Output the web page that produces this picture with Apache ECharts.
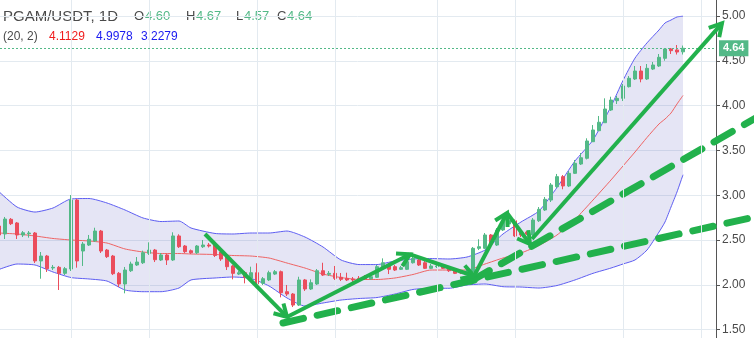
<!DOCTYPE html>
<html><head><meta charset="utf-8">
<script src="https://cdn.jsdelivr.net/npm/echarts@6/dist/echarts.min.js"></script>
<style>html,body{margin:0;padding:0;background:#fff}#c{width:754px;height:338px}</style>
</head><body><div id="c"></div>
<script>
// ---- candle data (daily PGAM/USDT) ----
const opens = [
2.656,2.567,2.731,2.690,2.556,2.570,2.578,2.266,2.321,2.188,
2.195,2.128,2.176,2.946,2.377,2.444,2.489,2.600,2.388,2.321,
2.128,2.009,2.157,2.221,2.246,2.351,2.388,2.277,2.333,2.277,
2.545,2.433,2.380,2.358,2.425,2.444,2.444,2.366,2.321,2.210,
2.120,2.135,2.072,2.135,2.017,2.054,2.120,2.146,1.923,1.897,
1.774,2.054,1.953,2.009,2.157,2.117,2.128,2.084,2.072,2.064,
2.072,2.087,2.068,2.084,2.184,2.221,2.202,2.173,2.173,2.246,
2.277,2.246,2.184,2.202,2.210,2.195,2.165,2.154,2.132,2.143,
2.407,2.407,2.556,2.444,2.612,2.679,2.715,2.593,2.589,2.556,
2.715,2.835,2.946,3.095,3.207,3.103,3.244,3.348,3.412,3.597,
3.720,3.809,3.951,4.055,4.081,4.211,4.297,4.386,4.297,4.408,
4.442,4.528,4.632,4.621,4.60];
const closes = [
2.556,2.734,2.682,2.556,2.581,2.578,2.266,2.321,2.180,2.195,
2.128,2.180,2.946,2.266,2.455,2.508,2.600,2.377,2.314,2.124,
2.009,2.165,2.232,2.254,2.358,2.388,2.280,2.333,2.277,2.545,
2.425,2.370,2.358,2.433,2.444,2.433,2.327,2.288,2.202,2.128,
2.135,2.084,2.135,2.009,2.068,2.135,2.146,1.912,1.897,1.774,
2.054,1.953,2.023,2.157,2.109,2.128,2.072,2.061,2.054,2.054,
2.054,2.064,2.090,2.202,2.246,2.173,2.165,2.191,2.258,2.295,
2.221,2.184,2.210,2.210,2.184,2.157,2.128,2.132,2.154,2.407,
2.425,2.556,2.455,2.612,2.704,2.715,2.545,2.556,2.567,2.723,
2.842,2.954,3.114,3.207,3.103,3.244,3.356,3.418,3.605,3.728,
3.814,3.962,4.062,4.081,4.219,4.305,4.386,4.297,4.416,4.453,
4.539,4.632,4.613,4.598,4.64];
const highs = [
2.690,2.757,2.745,2.701,2.600,2.600,2.589,2.366,2.333,2.221,
2.210,2.199,3.002,2.958,2.478,2.556,2.637,2.612,2.400,2.333,
2.143,2.199,2.258,2.310,2.381,2.474,2.400,2.355,2.344,2.586,
2.564,2.444,2.394,2.444,2.500,2.466,2.455,2.388,2.333,2.221,
2.154,2.154,2.202,2.240,2.087,2.157,2.165,2.159,1.998,1.908,
2.090,2.065,2.061,2.176,2.246,2.154,2.210,2.132,2.135,2.087,
2.098,2.109,2.109,2.221,2.295,2.243,2.221,2.210,2.333,2.351,
2.299,2.266,2.232,2.232,2.221,2.210,2.176,2.165,2.187,2.422,
2.508,2.578,2.567,2.634,2.723,2.768,2.729,2.612,2.600,2.745,
2.868,2.980,3.136,3.237,3.225,3.270,3.393,3.471,3.635,3.783,
3.884,4.081,4.099,4.107,4.241,4.330,4.442,4.442,4.464,4.487,
4.576,4.643,4.643,4.676,4.67];
const lows = [
2.522,2.511,2.667,2.511,2.533,2.526,2.243,2.068,2.143,2.165,
1.942,2.109,2.154,2.191,2.210,2.433,2.478,2.355,2.299,2.109,
1.975,1.905,2.143,2.210,2.232,2.333,2.254,2.266,2.221,2.266,
2.411,2.355,2.344,2.344,2.411,2.416,2.310,2.266,2.165,2.061,
2.109,2.016,2.054,1.998,1.998,2.042,2.109,1.860,1.875,1.752,
1.763,1.931,1.942,1.998,2.098,2.098,2.054,2.042,2.042,2.031,
2.042,2.054,2.054,2.076,2.176,2.120,2.154,2.165,2.165,2.237,
2.210,2.176,2.176,2.187,2.176,2.143,2.120,2.120,2.120,2.087,
2.388,2.400,2.433,2.433,2.600,2.656,2.533,2.533,2.556,2.545,
2.701,2.824,2.924,3.080,3.066,3.091,3.237,3.337,3.399,3.594,
3.716,3.806,3.940,4.018,4.051,4.202,4.286,4.260,4.286,4.397,
4.431,4.501,4.576,4.570,4.57];

// category slots (candles + empty right margin)
const categories = Array.from({length: 120}, (_, i) => 'D' + (i + 1));

// ---- Bollinger Bands (20, 2) at candle indices ----
const bbIdx   = [0,3,6,9,12,15,18,21,24,27,30,32,36,39,42,45,48,51,54,57,60,63,66,69,72,75,78,81,84,87,90,93,96,99,102,104,106,108,110,111,112,113,114];
const bbUpper = [3.039,2.868,2.812,2.857,2.958,2.963,2.913,2.835,2.746,2.706,2.712,2.634,2.573,2.567,2.578,2.578,2.600,2.533,2.422,2.277,2.226,2.226,2.266,2.288,2.293,2.288,2.310,2.388,2.567,2.701,2.824,3.086,3.382,3.616,3.990,4.280,4.530,4.700,4.844,4.922,4.955,4.989,4.9978];
const bbMid   = [2.578,2.567,2.545,2.517,2.500,2.489,2.466,2.400,2.366,2.349,2.349,2.344,2.338,2.327,2.321,2.299,2.243,2.187,2.120,2.081,2.059,2.059,2.076,2.115,2.165,2.165,2.165,2.232,2.299,2.355,2.439,2.556,2.730,2.946,3.170,3.326,3.482,3.644,3.795,3.850,3.917,4.018,4.1129];
const bbLower = [2.171,2.232,2.221,2.143,2.081,2.065,2.042,1.942,1.923,1.923,1.964,2.054,2.076,2.087,2.070,1.987,1.853,1.763,1.797,1.830,1.847,1.858,1.897,1.948,1.961,1.961,1.998,2.009,1.979,1.975,1.964,1.992,2.054,2.128,2.187,2.232,2.277,2.388,2.589,2.701,2.868,3.036,3.2279];
const bbLabel = '(20, 2)';

// ---- vertical date gridlines (candle index) ----
const gridIdx = [12, 25, 43, 56, 73, 86, 104, 117];

// ---- drawn annotations (candle index, price) ----
const arrowStart = [[34.33,2.567],[48.0,1.641],[68.5,2.340],[79.17,2.098],[84.67,2.801],[88.83,2.511]];
const arrowEnd   = [[48.0,1.641],[68.5,2.340],[79.17,2.098],[84.67,2.801],[88.5,2.455],[120.5,4.918]];
const dashStart  = [[47.33,1.574],[78.67,2.042]];
const dashEnd    = [[126.83,2.771],[126.83,3.888]];

// ---- y axis ticks ----
const yMin = 1.0, yMax = 5.5, yStep = 0.5;

const UP = '#53b987', DOWN = '#eb4d5c', DRAW = '#22b14c';
const FONT = '"Liberation Sans", Arial, sans-serif';

const chart = echarts.init(document.getElementById('c'), null, {renderer: 'canvas'});
const n = opens.length;
const last = n - 1;

function arrowItem(params, api) {
  const p1 = api.coord([api.value(0), api.value(1)]);
  const p2 = api.coord([api.value(2), api.value(3)]);
  const dx = p2[0] - p1[0], dy = p2[1] - p1[1];
  const len = Math.hypot(dx, dy);
  const ux = dx / len, uy = dy / len;
  const L = 14, a = Math.PI / 6, c = Math.cos(a), s = Math.sin(a);
  const w1 = [p2[0] - L * (ux * c - uy * s), p2[1] - L * (uy * c + ux * s)];
  const w2 = [p2[0] - L * (ux * c + uy * s), p2[1] - L * (uy * c - ux * s)];
  return {type: 'group', children: [
    {type: 'line', shape: {x1: p1[0], y1: p1[1], x2: p2[0], y2: p2[1]}, style: {stroke: DRAW, lineWidth: 4, lineCap: 'butt'}},
    {type: 'polyline', shape: {points: [w1, p2, w2]}, style: {stroke: DRAW, lineWidth: 4, fill: null, lineJoin: 'miter'}}
  ]};
}
function dashItem(params, api) {
  const p1 = api.coord([api.value(0), api.value(1)]);
  const p2 = api.coord([api.value(2), api.value(3)]);
  return {type: 'line', shape: {x1: p1[0], y1: p1[1], x2: p2[0], y2: p2[1]},
    style: {stroke: DRAW, lineWidth: 7, lineDash: [21, 14], lineCap: 'round'}};
}
function bandFill(params, api) {
  if (params.dataIndex !== 0) return null;
  const pts = [];
  for (let k = 0; k < bbIdx.length; k++) pts.push(api.coord([bbIdx[k], bbUpper[k]]));
  for (let k = bbIdx.length - 1; k >= 0; k--) pts.push(api.coord([bbIdx[k], bbLower[k]]));
  return {type: 'polygon', shape: {points: pts}, style: {fill: 'rgba(96,96,190,0.16)'}};
}

const pair = (xs, ys) => xs.map((x, k) => [x, ys[k]]);

const option = {
  animation: false,
  backgroundColor: '#ffffff',
  grid: {left: -4, right: 38, top: -28.8, bottom: -36.4, containLabel: false, outerBoundsMode: 'none'},
  xAxis: [
    {type: 'category', data: categories, boundaryGap: true, show: false},
    {type: 'value', min: -0.5, max: 119.5, show: false}
  ],
  yAxis: [{
    type: 'value', position: 'right', min: yMin, max: yMax, interval: yStep,
    axisLine: {show: true, onZero: false, lineStyle: {color: '#555', width: 1}},
    axisTick: {show: true, length: 4, lineStyle: {color: '#555'}},
    axisLabel: {margin: 6, color: '#4a4a4a', fontSize: 12, fontFamily: FONT, formatter: v => v.toFixed(2)},
    splitLine: {show: true, lineStyle: {color: '#e3eaf0', width: 1}}
  }],
  series: [
    {type: 'line', xAxisIndex: 1, yAxisIndex: 0, data: [], z: 0, silent: true,
     markLine: {silent: true, symbol: 'none', animation: false, label: {show: false},
       lineStyle: {color: '#e3eaf0', width: 1, type: 'solid'},
       data: gridIdx.map(v => ({xAxis: v}))}},
    {type: 'custom', xAxisIndex: 1, yAxisIndex: 0, z: 1, silent: true, renderItem: bandFill,
     data: [[bbIdx[0], bbMid[0]]], encode: {x: 0, y: 1}},
    {type: 'line', xAxisIndex: 1, yAxisIndex: 0, z: 2, silent: true, showSymbol: false, smooth: 0.2,
     lineStyle: {color: '#5e5ef2', width: 1}, data: pair(bbIdx, bbUpper)},
    {type: 'line', xAxisIndex: 1, yAxisIndex: 0, z: 2, silent: true, showSymbol: false, smooth: 0.2,
     lineStyle: {color: '#5e5ef2', width: 1}, data: pair(bbIdx, bbLower)},
    {type: 'line', xAxisIndex: 1, yAxisIndex: 0, z: 2, silent: true, showSymbol: false, smooth: 0.2,
     lineStyle: {color: '#ef6464', width: 1}, data: pair(bbIdx, bbMid)},
    {type: 'candlestick', xAxisIndex: 0, yAxisIndex: 0, z: 3, barWidth: 4,
     data: opens.map((o, k) => [o, closes[k], lows[k], highs[k]]),
     itemStyle: {color: UP, color0: DOWN, borderColor: UP, borderColor0: DOWN, borderWidth: 1},
     markLine: {silent: true, symbol: 'none', animation: false,
       lineStyle: {color: UP, width: 1, type: [2, 2]},
       label: {show: true, position: 'end', distance: 3, formatter: p => p.value.toFixed(2),
         backgroundColor: UP, color: '#fff', fontWeight: 'bold', fontSize: 11, fontFamily: FONT,
         padding: [3, 4, 2, 4]},
       data: [{yAxis: closes[last]}]}},
    {type: 'custom', xAxisIndex: 1, yAxisIndex: 0, z: 4, silent: true, clip: false, renderItem: dashItem,
     data: dashStart.map((s, k) => [s[0], s[1], dashEnd[k][0], dashEnd[k][1]]), encode: {x: [0, 2], y: [1, 3]}},
    {type: 'custom', xAxisIndex: 1, yAxisIndex: 0, z: 5, silent: true, clip: false, renderItem: arrowItem,
     data: arrowStart.map((s, k) => [s[0], s[1], arrowEnd[k][0], arrowEnd[k][1]]), encode: {x: [0, 2], y: [1, 3]}}
  ],
  graphic: [
    {type: 'text', left: 3, top: 9, style: {text: 'PGAM/USDT, 1D', fill: '#4a4a4a', font: '15px ' + FONT}},
    {type: 'text', left: 134, top: 10, style: {text: 'O', fill: '#4a4a4a', font: '13px ' + FONT}},
    {type: 'text', left: 145, top: 10, style: {text: opens[last].toFixed(2), fill: UP, font: '13px ' + FONT}},
    {type: 'text', left: 186, top: 10, style: {text: 'H', fill: '#4a4a4a', font: '13px ' + FONT}},
    {type: 'text', left: 196, top: 10, style: {text: highs[last].toFixed(2), fill: UP, font: '13px ' + FONT}},
    {type: 'text', left: 236, top: 10, style: {text: 'L', fill: '#4a4a4a', font: '13px ' + FONT}},
    {type: 'text', left: 244, top: 10, style: {text: lows[last].toFixed(2), fill: UP, font: '13px ' + FONT}},
    {type: 'text', left: 277, top: 10, style: {text: 'C', fill: '#4a4a4a', font: '13px ' + FONT}},
    {type: 'text', left: 287, top: 10, style: {text: closes[last].toFixed(2), fill: UP, font: '13px ' + FONT}},
    {type: 'text', left: 3, top: 31, style: {text: bbLabel, fill: '#4a4a4a', font: '12px ' + FONT}},
    {type: 'text', left: 49, top: 31, style: {text: bbMid[bbMid.length - 1].toFixed(4), fill: '#f01c1c', font: '12px ' + FONT}},
    {type: 'text', left: 96, top: 31, style: {text: bbUpper[bbUpper.length - 1].toFixed(4), fill: '#1a1af0', font: '12px ' + FONT}},
    {type: 'text', left: 141, top: 31, style: {text: bbLower[bbLower.length - 1].toFixed(4), fill: '#1a1af0', font: '12px ' + FONT}}
  ]
};
chart.setOption(option);
</script>
</body></html>
